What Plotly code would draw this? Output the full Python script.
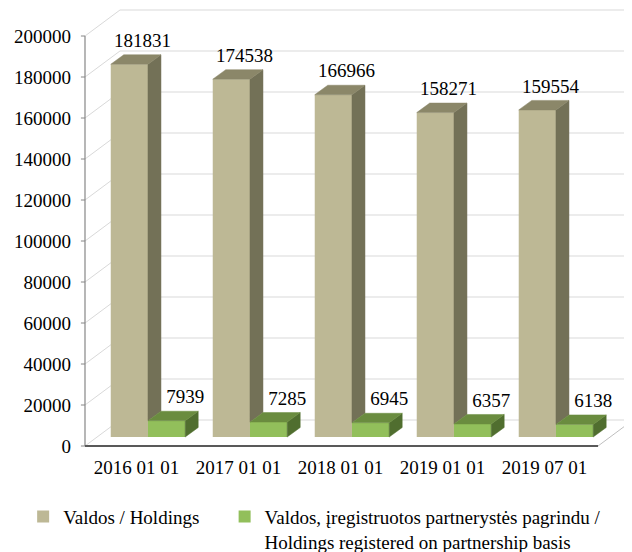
import numpy as np
import plotly.graph_objects as go

# Data
dates = ["2016 01 01", "2017 01 01", "2018 01 01", "2019 01 01", "2019 07 01"]
holdings = [181831, 174538, 166966, 158271, 159554]
partnership = [7939, 7285, 6945, 6357, 6138]
y_ticks = list(range(0, 200001, 20000))

# Colours (front, top, side)
BEIGE = ("#BDB895", "#8B8769", "#737157")
GREEN = ("#92BF5B", "#6A8C3F", "#506E2F")

# Pseudo-3D geometry (axis units)
X_FRONT = -0.505          # front edge of floor / value axis
X_FLOOR_END = 4.525       # right end of floor front edge
WALL_DX, WALL_DY = 0.343, 12683   # depth of back wall
BAR_BASE = 4390           # bars stand a bit back on the floor
BAR_DX, BAR_DY = 0.1275, 4634     # depth of each bar
BAR_W = 0.365
H_OFF, P_OFF = -0.07, 0.295
LABEL_LIFT = 1500

FONT = "Liberation Serif"

x = np.arange(len(dates))
xh = x + H_OFF
xp = x + P_OFF


def faces(xc, bottoms, tops):
    side_x, side_y, top_x, top_y = [], [], [], []
    for c, b, t in zip(xc, bottoms, tops):
        l, r = c - BAR_W / 2, c + BAR_W / 2
        side_x += [r, r + BAR_DX, r + BAR_DX, r, r, None]
        side_y += [b, b + BAR_DY, t + BAR_DY, t, b, None]
        top_x += [l, l + BAR_DX, r + BAR_DX, r, l, None]
        top_y += [t, t + BAR_DY, t + BAR_DY, t, t, None]
    return side_x, side_y, top_x, top_y


fig = go.Figure()

# front faces
fig.add_trace(go.Bar(
    x=xh, y=holdings, base=BAR_BASE, width=BAR_W,
    name="Valdos / Holdings", legend='legend',
    marker=dict(color=BEIGE[0], line=dict(width=0))
))
fig.add_trace(go.Bar(
    x=xp, y=partnership, base=BAR_BASE, width=BAR_W,
    name="Valdos, įregistruotos partnerystės pagrindu /<br>Holdings registered on partnership basis",
    legend='legend2',
    marker=dict(color=GREEN[0], line=dict(width=0))
))

# side and top faces
h_tops = [BAR_BASE + v for v in holdings]
p_tops = [BAR_BASE + v for v in partnership]
hs_x, hs_y, ht_x, ht_y = faces(xh, p_tops, h_tops)
ps_x, ps_y, pt_x, pt_y = faces(xp, [BAR_BASE] * len(x), p_tops)

for fx, fy, col in [(hs_x, hs_y, BEIGE[2]), (ht_x, ht_y, BEIGE[1]),
                    (ps_x, ps_y, GREEN[2]), (pt_x, pt_y, GREEN[1])]:
    fig.add_trace(go.Scatter(
        x=fx, y=fy, mode='lines', fill='toself', fillcolor=col,
        line=dict(width=0.5, color=col), hoverinfo='skip', showlegend=False
    ))

# value labels
for xc, tops, vals, shift in [(xh, h_tops, holdings, 0.065),
                              (xp, p_tops, partnership, 0.12)]:
    fig.add_trace(go.Scatter(
        x=xc + BAR_DX / 2 + shift, y=[t + BAR_DY + LABEL_LIFT for t in tops],
        mode='text', text=[str(v) for v in vals],
        textposition='top center',
        textfont=dict(family=FONT, size=19, color='black'),
        hoverinfo='skip', showlegend=False
    ))

# walls, gridlines, axis lines
shapes = []
grid = dict(color="#D9D9D9", width=1)
for v in y_ticks:
    shapes.append(dict(type='line', xref='x', yref='y', layer='below',
                       x0=X_FRONT + WALL_DX, x1=5.2, y0=v + WALL_DY, y1=v + WALL_DY, line=grid))
    shapes.append(dict(type='line', xref='x', yref='y', layer='below',
                       x0=X_FRONT, x1=X_FRONT + WALL_DX, y0=v, y1=v + WALL_DY, line=grid))
    shapes.append(dict(type='line', xref='x', yref='y', layer='below',
                       x0=X_FRONT - 0.04, x1=X_FRONT, y0=v, y1=v,
                       line=dict(color="#868686", width=1)))
shapes.append(dict(type='line', xref='x', yref='y', layer='below',
                   x0=X_FLOOR_END, x1=X_FLOOR_END + WALL_DX, y0=0, y1=WALL_DY,
                   line=dict(color="#BFBFBF", width=1)))
shapes.append(dict(type='line', xref='x', yref='y', layer='below',
                   x0=X_FRONT, x1=X_FRONT, y0=0, y1=200000,
                   line=dict(color="#868686", width=1.2)))
shapes.append(dict(type='line', xref='x', yref='y', layer='below',
                   x0=X_FRONT, x1=X_FLOOR_END, y0=0, y1=0,
                   line=dict(color="#595959", width=2)))

legend_style = dict(
    orientation='h', yanchor='top', xanchor='left', y=-0.108,
    font=dict(family=FONT, size=19, color='black'),
    valign='top', itemwidth=30, bgcolor='rgba(0,0,0,0)'
)

# page body adds an 8px offset, so the figure is 8px smaller than the window
fig.update_layout(
    width=624, height=544,
    barmode='overlay',
    plot_bgcolor='white', paper_bgcolor='white',
    margin=dict(l=72, r=0, t=0, b=102, autoexpand=False),
    font=dict(family=FONT, size=19, color='black'),
    shapes=shapes,
    showlegend=True,
    legend=dict(legend_style, x=-0.103),
    legend2=dict(legend_style, x=0.262)
)

fig.update_xaxes(
    range=[-0.554, 4.858], showgrid=False, zeroline=False, showline=False,
    tickvals=list(x), ticktext=dates, ticks='', ticklabelstandoff=4,
    tickfont=dict(family=FONT, size=19, color='black')
)
fig.update_yaxes(
    range=[-1951, 213659], showgrid=False, zeroline=False, showline=False,
    tickvals=y_ticks, ticktext=[str(v) for v in y_ticks], ticks='',
    ticklabelstandoff=8,
    tickfont=dict(family=FONT, size=19, color='black')
)

fig.write_html("out.html")
